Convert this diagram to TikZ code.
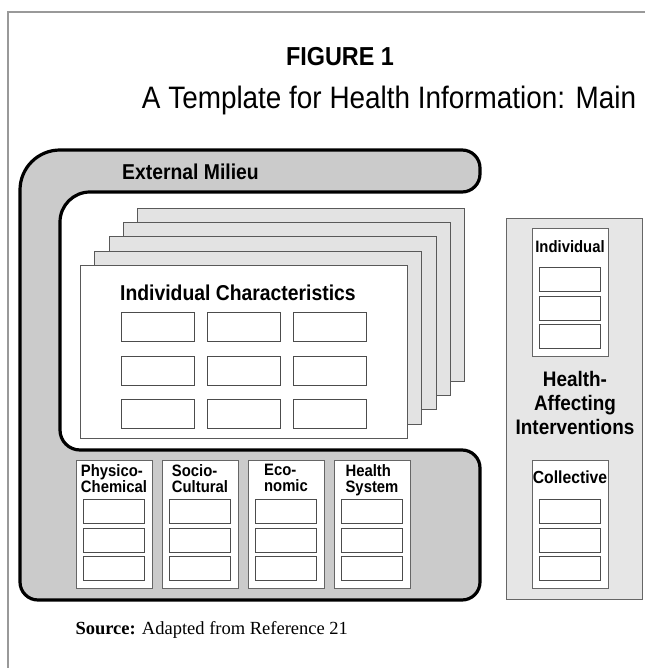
\documentclass[tikz,border=0pt]{standalone}
\usepackage{fontspec}
\setmainfont{Liberation Serif}
\newfontfamily\helv[FakeStretch=0.9]{Liberation Sans}
\definecolor{milieugray}{HTML}{CBCBCB}
\definecolor{sheetgray}{HTML}{E3E3E3}
\definecolor{panelgray}{HTML}{E6E6E6}
\definecolor{framegray}{HTML}{999999}

\begin{document}
\begin{tikzpicture}[x=1pt,y=-1pt,
  box/.style={draw=black!70,line width=1.1pt,fill=white,anchor=north west,inner sep=0pt},
  cell/.style={box,minimum width=73pt,minimum height=29pt},
  slot/.style={box,minimum width=61pt,minimum height=24pt},
  sheet/.style={box,draw=black!65,line width=0.9pt,fill=sheetgray,minimum width=327pt,minimum height=173pt},
  column/.style={box,draw=black!60,minimum width=76pt,minimum height=128pt},
  bighead/.style={font=\helv\bfseries\fontsize{21.5}{24}\selectfont,inner sep=0pt},
  smallhead/.style={font=\helv\bfseries\fontsize{16.5}{16}\selectfont,inner sep=0pt}]
  \useasboundingbox (0,0) rectangle (645,668);
  \draw[framegray,line width=1.4pt] (8,668) -- (8,12) -- (645,12);
  \node[font=\helv\bfseries\fontsize{26}{30}\selectfont] (fig) at (340,57) {FIGURE 1};
  \node[font=\helv\fontsize{31}{34}\selectfont] (title) at (389,100) {A Template for Health Information: Main};
  \draw[line width=3.2pt,fill=milieugray]
    (250,150) [rounded corners=40pt] -- (20,150) [rounded corners=18pt] -- (20,600) -- (480,600) -- (480,450)
    [rounded corners=20pt] -- (60,450) [rounded corners=30pt] -- (60,192) [rounded corners=18pt] -- (480,192)
    -- (480,150) -- cycle;
  \node[bighead,anchor=west] (milieu) at (122,172) {External Milieu};
  \foreach \k in {4,3,2,1}
    \node[sheet] (sheet-\k) at ({80+14.3*\k},{265-14.3*\k}) {};
  \node[sheet,fill=white] (indiv) at (80,265) {};
  \node[bighead,anchor=west] (indiv-head) at (120,293) {Individual Characteristics};
  \foreach \r in {0,1,2}
    \foreach \c in {0,1,2}
      \node[cell] (ic-\r-\c) at ({121+86*\c},{312+43.5*\r}) {};
  \foreach \lbl [count=\c from 0] in {{Physico-\\Chemical},{Socio-\\Cultural},{Eco-\\nomic},{Health\\System}}{
    \node[column] (col-\c) at ({76+86*\c},460) {};
    \node[smallhead,align=left,anchor=north] (col-\c-head) at ({114+86*\c},464) {\lbl};
    \foreach \r in {0,1,2}
      \node[slot] (col-\c-\r) at ({83+86*\c},{499+28.5*\r}) {};
  }
  \node[box,draw=black!60,fill=panelgray,minimum width=136pt,minimum height=381pt] (hai) at (506,218) {};
  \node[column] (hai-ind) at (532,228) {};
  \node[smallhead] (hai-ind-head) at (570,247) {Individual};
  \node[column] (hai-col) at (532,460) {};
  \node[smallhead,font=\helv\bfseries\fontsize{17.5}{16}\selectfont] (hai-col-head) at (570,477) {Collective};
  \foreach \r in {0,1,2}{
    \node[slot] (hai-ind-\r) at (539,{267+28.5*\r}) {};
    \node[slot] (hai-col-\r) at (539,{499+28.5*\r}) {};
  }
  \node[bighead,font=\helv\bfseries\fontsize{21}{24}\selectfont,align=center] (hai-head) at (575,403) {Health-\\Affecting\\Interventions};
  \node[anchor=west,font=\fontsize{18.5}{22}\selectfont] (source) at (72,630) {\textbf{Source:} Adapted from Reference 21};
\end{tikzpicture}
\end{document}
